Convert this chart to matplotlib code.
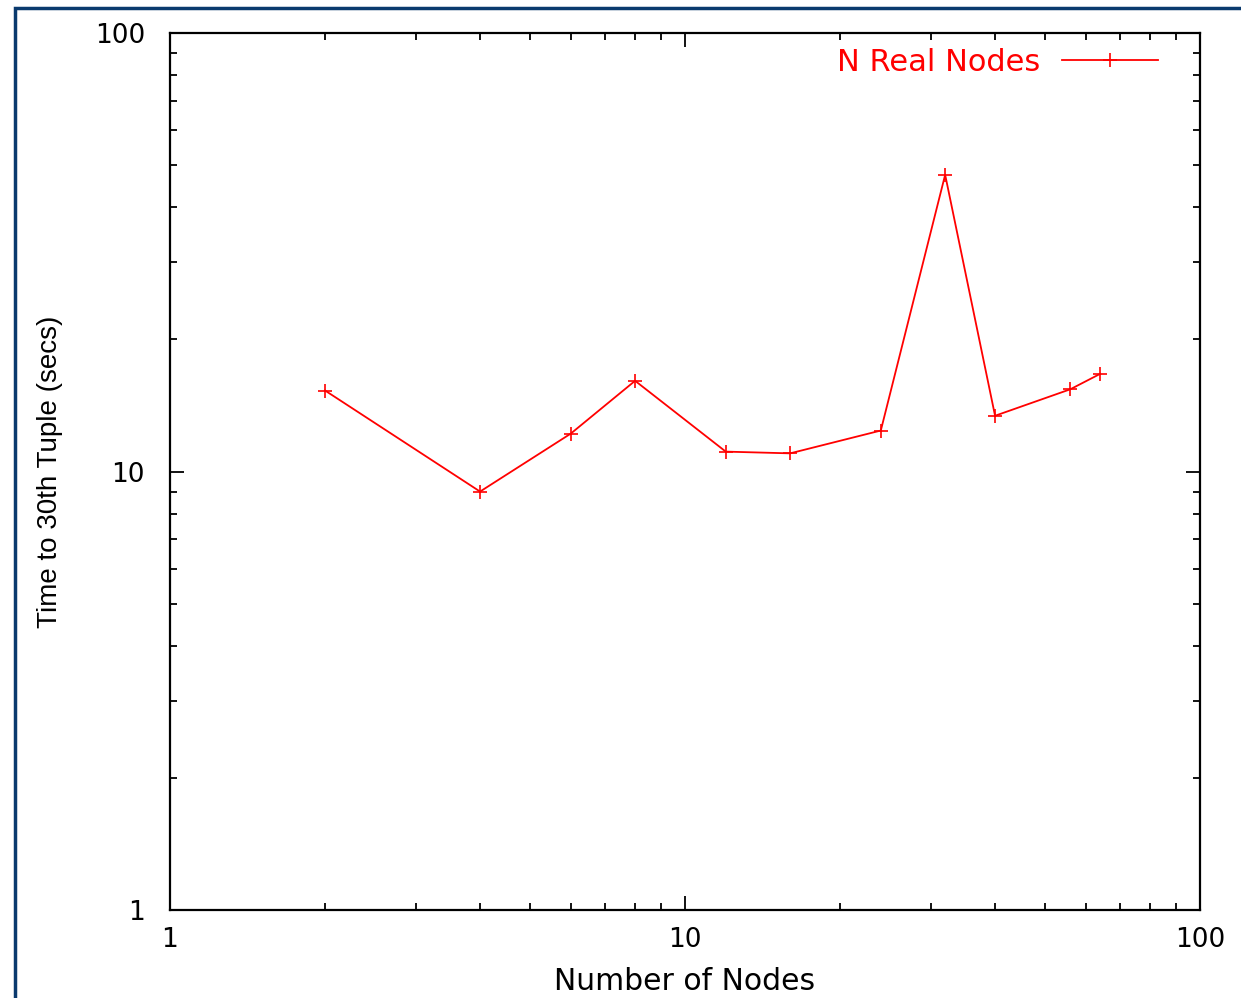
import matplotlib.pyplot as plt
from matplotlib.patches import Rectangle

plt.rcParams['font.family'] = ['DejaVu Sans']

# 노드 수 / 30번째 튜플까지 걸린 시간
nodes = [2, 4, 6, 8, 12, 16, 24, 32, 40, 56, 64]
time_secs = [15.3, 9.0, 12.2, 16.1, 11.1, 11.0, 12.4, 47.5, 13.4, 15.4, 16.7]
series_label = 'N Real Nodes'

fig = plt.figure(figsize=(12.41, 9.98), dpi=100)

# 바깥 파란 테두리 (오른쪽, 아래는 잘려있음)
fig.patches.append(Rectangle((15 / 1241, -0.05), 1.2, (998 - 8) / 998 + 0.05,
                             transform=fig.transFigure, fill=False,
                             edgecolor='#0a3a6e', linewidth=2.5, zorder=0))

ax = fig.add_axes([170 / 1241, 88 / 998, 1030 / 1241, 877 / 998])
ax.plot(nodes, time_secs, color='#ff0000', linewidth=1.3, marker='+',
        markersize=10, markeredgewidth=1.2, label=series_label)

ax.set_xscale('log')
ax.set_yscale('log')
ax.set_xlim(1, 100)
ax.set_ylim(1, 100)
ax.set_xticks([1, 10, 100])
ax.set_xticklabels(['1', '10', '100'])
ax.set_yticks([1, 10, 100])
ax.set_yticklabels(['1', '10', '100'])

ax.tick_params(which='both', direction='in', top=True, right=True, width=1.3)
ax.tick_params(which='major', length=10, labelsize=19)
ax.tick_params(axis='y', which='major', pad=18)
ax.tick_params(axis='x', which='major', pad=12)
ax.tick_params(which='minor', length=5)
for s in ax.spines.values():
    s.set_linewidth(1.6)

ax.set_xlabel('Number of Nodes', fontsize=21.5, labelpad=10)
ax.set_ylabel('Time to 30th Tuple (secs)', fontsize=20,
              family='Liberation Sans', labelpad=23)

ax.legend(loc='upper right', bbox_to_anchor=(0.959, 0.983), frameon=False,
          markerfirst=False, fontsize=22, labelcolor='#ff0000',
          handlelength=3.15, handletextpad=0.7, borderpad=0, borderaxespad=0)

plt.savefig('out.png', dpi=100)
